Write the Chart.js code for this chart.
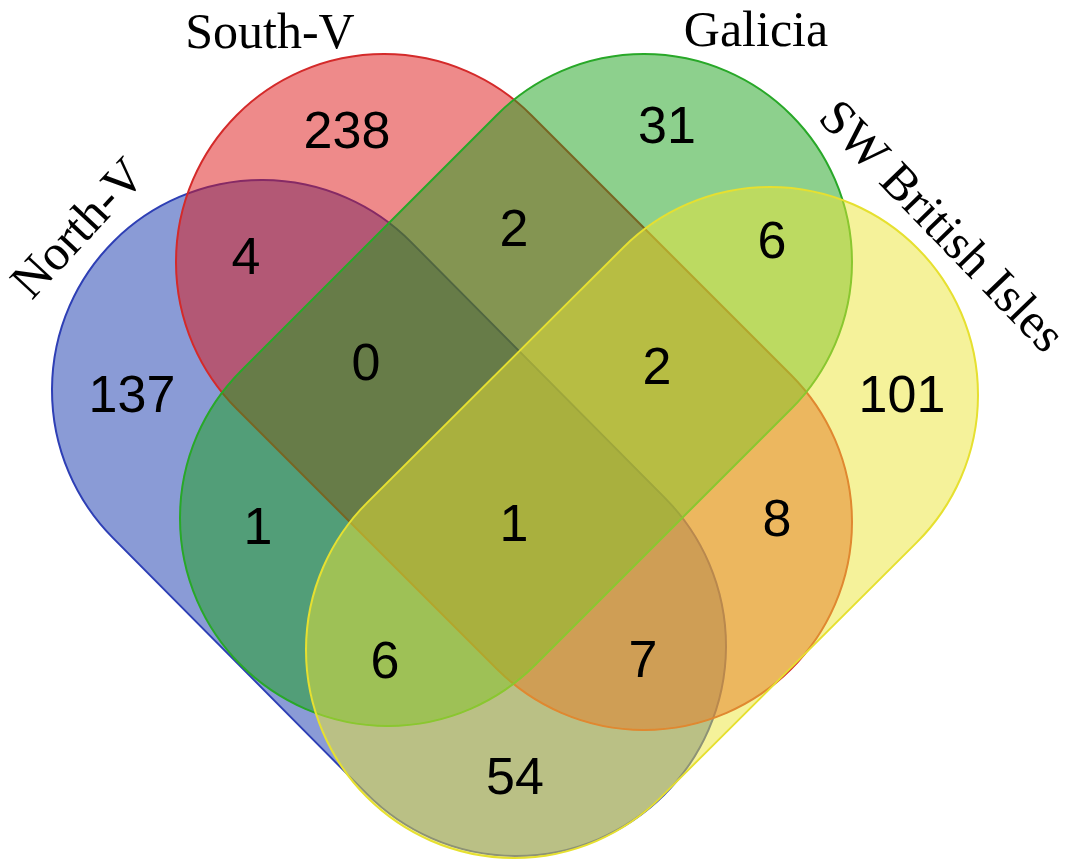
<!DOCTYPE html>
<html>
<head>
<meta charset="utf-8">
<script src="https://cdn.jsdelivr.net/npm/chart.js@4/dist/chart.umd.min.js"></script>
<style>
  html, body { margin: 0; padding: 0; background: #fff; }
  #wrap { width: 1072px; height: 859px; }
</style>
</head>
<body>
<div id="wrap"><canvas id="myChart" width="1072" height="859"></canvas></div>
<script>
// sets and region counts
const setNames = ["North-V", "South-V", "Galicia", "SW British Isles"];
const regionLabels = ["South-V only", "Galicia only", "North-V & South-V", "South-V & Galicia",
  "Galicia & SW", "North-V only", "N, S & G", "S, G & SW", "SW only", "N & G", "all four",
  "S & SW", "N, G & SW", "N, S & SW", "N & SW"];
const regionCounts = [238, 31, 4, 2, 6, 137, 0, 2, 101, 1, 1, 8, 6, 7, 54];

// layout (canvas units): where each region number sits
const regionX = [347, 667, 246, 514, 772, 132, 366, 657, 902, 258, 514, 777, 385, 643, 515];
const regionY = [134, 129, 260, 232, 244, 398, 366, 370, 398, 530, 527, 522, 664, 663, 780];

// shape layout: two end centres of each rounded band, end radius
const shapes = [
  { x1: 262, y1: 390, x2: 516, y2: 646, r: 210, fill: "rgba(21,55,173,0.5)", line: "#2e3fb5" },
  { x1: 384, y1: 262, x2: 644, y2: 522, r: 208, fill: "rgba(221,21,21,0.5)", line: "#d42a2a" },
  { x1: 644, y1: 262, x2: 388, y2: 518, r: 208, fill: "rgba(27,161,27,0.5)", line: "#28a828" },
  { x1: 770, y1: 395, x2: 514, y2: 650, r: 208, fill: "rgba(235,229,53,0.5)", line: "#e6e030" }
];
const nameSpots = [
  { x: 80, y: 230, rot: -47 },
  { x: 270, y: 35, rot: 0 },
  { x: 756, y: 33, rot: 0 },
  { x: 940, y: 228, rot: 46 }
];

const points = regionCounts.map((v, i) => ({ x: regionX[i], y: regionY[i], v: v }));

const vennPlugin = {
  id: "venn",
  beforeDatasetsDraw(chart) {
    const ctx = chart.ctx;
    const sx = chart.scales.x, sy = chart.scales.y;
    ctx.save();
    shapes.forEach(s => {
      const r = sx.getPixelForValue(s.r) - sx.getPixelForValue(0);
      const ax = sx.getPixelForValue(s.x1), ay = sy.getPixelForValue(s.y1);
      const bx = sx.getPixelForValue(s.x2), by = sy.getPixelForValue(s.y2);
      const th = Math.atan2(by - ay, bx - ax);
      ctx.beginPath();
      ctx.arc(bx, by, r, th - Math.PI / 2, th + Math.PI / 2);
      ctx.arc(ax, ay, r, th + Math.PI / 2, th + Math.PI * 1.5);
      ctx.closePath();
      ctx.fillStyle = s.fill;
      ctx.fill();
      ctx.lineWidth = 2;
      ctx.strokeStyle = s.line;
      ctx.stroke();
    });
    // set names
    ctx.fillStyle = "#000";
    ctx.font = "50px 'Liberation Serif', 'Times New Roman', serif";
    ctx.textAlign = "center";
    ctx.textBaseline = "middle";
    setNames.forEach((n, i) => {
      const p = nameSpots[i];
      ctx.save();
      ctx.translate(sx.getPixelForValue(p.x), sy.getPixelForValue(p.y));
      ctx.rotate(p.rot * Math.PI / 180);
      ctx.fillText(n, 0, 0);
      ctx.restore();
    });
    ctx.restore();
  },
  afterDatasetsDraw(chart) {
    const ctx = chart.ctx;
    const meta = chart.getDatasetMeta(0);
    ctx.save();
    ctx.fillStyle = "#000";
    ctx.font = "52px 'Liberation Sans', Arial, sans-serif";
    ctx.textAlign = "center";
    ctx.textBaseline = "middle";
    meta.data.forEach((el, i) => {
      ctx.fillText(String(regionCounts[i]), el.x, el.y);
    });
    ctx.restore();
  }
};

new Chart(document.getElementById("myChart").getContext("2d"), {
  type: "scatter",
  data: {
    labels: regionLabels,
    datasets: [{ label: "counts", data: points, pointRadius: 0, pointHoverRadius: 0 }]
  },
  options: {
    responsive: false,
    animation: false,
    layout: { padding: 0 },
    plugins: { legend: { display: false }, tooltip: { enabled: false } },
    scales: {
      x: { type: "linear", min: 0, max: 1072, display: false },
      y: { type: "linear", min: 0, max: 859, reverse: true, display: false }
    }
  },
  plugins: [vennPlugin]
});
</script>
</body>
</html>
